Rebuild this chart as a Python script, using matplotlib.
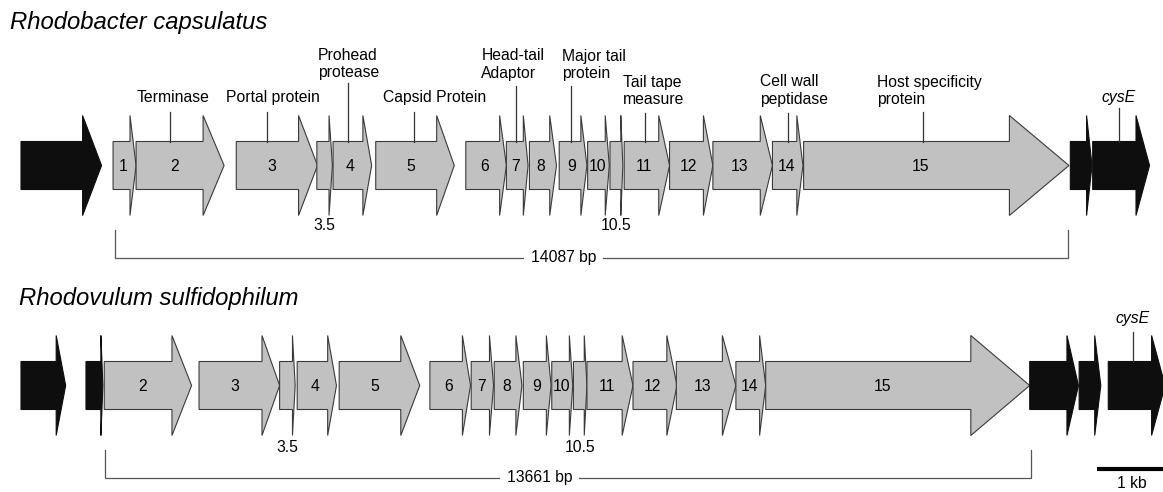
"""
Gene maps of the gene transfer agent clusters in two Rhodobacterales.

Each gene is drawn as a block arrow (body + head) along a kb axis.
Grey = GTA structural genes, black = flanking host genes.
"""

import matplotlib.pyplot as plt
from matplotlib.patches import Polygon

plt.rcParams["font.family"] = ["Liberation Sans", "DejaVu Sans"]

# ---- data (kb from left edge of the panel) -------------------------------
RC_NAMES = ["", "1", "2", "3", "3.5", "4", "5", "6", "7", "8", "9", "10",
            "10.5", "11", "12", "13", "14", "15", "", "cysE"]
RC_START = [0.31, 1.67, 2.01, 3.49, 4.68, 4.92, 5.55, 6.88, 7.48, 7.82, 8.26,
            8.68, 9.01, 9.22, 9.89, 10.53, 11.41, 11.87, 15.81, 16.14]
RC_BASE = [1.22, 1.92, 3.00, 4.41, 4.86, 5.36, 6.45, 7.38, 7.73, 8.12, 8.58,
           8.94, 9.17, 9.73, 10.39, 11.23, 11.77, 14.91, 16.05, 16.78]
RC_TIP = [1.50, 2.01, 3.31, 4.69, 4.91, 5.49, 6.71, 7.48, 7.80, 8.22, 8.67,
          9.00, 9.20, 9.89, 10.53, 11.41, 11.86, 15.79, 16.13, 16.98]
RC_HOST = [True] + [False] * 17 + [True, True]
RC_SPAN = (1.70, 15.78)
RC_LEN_BP = 14087

RS_NAMES = ["", "", "2", "3", "3.5", "4", "5", "6", "7", "8", "9", "10",
            "10.5", "11", "12", "13", "14", "15", "", "", "cysE"]
RS_START = [0.31, 1.27, 1.54, 2.94, 4.13, 4.39, 5.01, 6.35, 6.96, 7.30, 7.73,
            8.15, 8.47, 8.67, 9.35, 9.99, 10.87, 11.31, 15.21, 15.94, 16.37]
RS_BASE = [0.83, 1.49, 2.54, 3.87, 4.32, 4.84, 5.92, 6.83, 7.23, 7.62, 8.07,
           8.41, 8.63, 9.19, 9.85, 10.67, 11.22, 14.34, 15.76, 16.17, 17.01]
RS_TIP = [0.97, 1.52, 2.83, 4.13, 4.36, 4.97, 6.20, 6.95, 7.29, 7.71, 8.14,
          8.46, 8.67, 9.35, 10.00, 10.87, 11.31, 15.21, 15.93, 16.26, 17.21]
RS_HOST = [True, True] + [False] * 16 + [True, True, True]
RS_SPAN = (1.55, 15.23)
RS_LEN_BP = 13661

# functional annotations on the R. capsulatus map: (lines, leader x in kb)
RC_FUNCTIONS = [
    (["Terminase"], 2.51),
    (["Portal protein"], 3.94),
    (["Prohead", "protease"], 5.14),
    (["Capsid Protein"], 6.12),
    (["Head-tail", "Adaptor"], 7.62),
    (["Major tail", "protein"], 8.44),
    (["Tail tape", "measure"], 9.53),
    (["Cell wall", "peptidase"], 11.64),
    (["Host specificity", "protein"], 13.63),
]

# ---- layout (y in pixels, top-down) ------------------------------------------
PX_PER_KB = 67.7
W, H = 1163, 492
BODY_HALF, HEAD_HALF = 24, 50
GREY, BLACK, EDGE = "#c1c1c1", "#0e0e0e", "#3a3a3a"
FS = 11.3

# text anchor, alignment, baseline of last line, leader top (px)
FUNC_LAYOUT = [
    (2.55, "center", 102, 112),
    (4.03, "center", 102, 112),
    (4.70, "left", 77, 83),
    (6.42, "center", 102, 112),
    (7.11, "left", 78, 86),
    (8.30, "left", 78, 86),
    (9.20, "left", 104, 113),
    (11.23, "left", 104, 113),
    (12.95, "left", 104, 112),
]


def draw_gene(ax, start, base, tip, yc, host):
    pts = [
        (start, yc - BODY_HALF), (base, yc - BODY_HALF), (base, yc - HEAD_HALF),
        (tip, yc), (base, yc + HEAD_HALF), (base, yc + BODY_HALF),
        (start, yc + BODY_HALF),
    ]
    ax.add_patch(Polygon(pts, closed=True, fc=BLACK if host else GREY,
                         ec=BLACK if host else EDGE, lw=0.8, joinstyle="miter"))


def draw_map(ax, names, starts, bases, tips, host, yc, span, length_bp, small_y):
    for name, s, b, t, h in zip(names, starts, bases, tips, host):
        draw_gene(ax, s, b, t, yc, h)
        if h or not name:
            continue
        if "." in name:
            ax.text((s + t) / 2, small_y, name, ha="center", va="center", fontsize=FS)
        else:
            ax.text(s + 0.57 * (b - s), yc + 1, name, ha="center", va="center", fontsize=FS)

    # bracket with total length
    y0, y1 = yc + 64, yc + 92
    ax.plot([span[0], span[0], span[1], span[1]], [y0, y1, y1, y0],
            color="#555555", lw=0.9, solid_joinstyle="miter")
    ax.text((span[0] + span[1]) / 2 - 0.42, y1, f"{length_bp} bp", ha="center",
            va="center", fontsize=FS,
            bbox=dict(fc="white", ec="none", pad=5))


fig = plt.figure(figsize=(W / 100, H / 100), dpi=100)
ax = fig.add_axes([0, 0, 1, 1])
ax.set_xlim(0, W / PX_PER_KB)
ax.set_ylim(H, 0)
ax.axis("off")

# R. capsulatus
ax.text(0.15, 23, "Rhodobacter capsulatus", fontsize=17.2, style="italic",
        ha="left", va="center")
draw_map(ax, RC_NAMES, RC_START, RC_BASE, RC_TIP, RC_HOST, 165.5,
         RC_SPAN, RC_LEN_BP, 226)
body_top = 165.5 - BODY_HALF
for (lines, lx), (tx, ha, base_y, top) in zip(RC_FUNCTIONS, FUNC_LAYOUT):
    ax.plot([lx, lx], [top, body_top], color="#333333", lw=0.9)
    for i, line in enumerate(reversed(lines)):
        ax.text(tx, base_y - 17.5 * i, line, ha=ha, va="baseline", fontsize=FS)
cys_rc = RC_START[-1] + 0.6 * (RC_BASE[-1] - RC_START[-1])
ax.plot([cys_rc, cys_rc], [108, body_top], color="#333333", lw=0.9)
ax.text(cys_rc, 102, "cysE", style="italic", ha="center", va="baseline", fontsize=FS)

# R. sulfidophilum
ax.text(0.28, 298, "Rhodovulum sulfidophilum", fontsize=17.2, style="italic",
        ha="left", va="center")
draw_map(ax, RS_NAMES, RS_START, RS_BASE, RS_TIP, RS_HOST, 385.5,
         RS_SPAN, RS_LEN_BP, 448)
body_top = 385.5 - BODY_HALF
cys_rs = RS_START[-1] + 0.57 * (RS_BASE[-1] - RS_START[-1])
ax.plot([cys_rs, cys_rs], [332, body_top], color="#333333", lw=0.9)
ax.text(cys_rs, 323, "cysE", style="italic", ha="center", va="baseline", fontsize=FS)

# scale bar
ax.plot([16.20, 17.20], [469, 469], color="black", lw=3, solid_capstyle="butt")
ax.text(16.72, 476, "1 kb", ha="center", va="top", fontsize=FS)

fig.savefig("out.png", dpi=100)
